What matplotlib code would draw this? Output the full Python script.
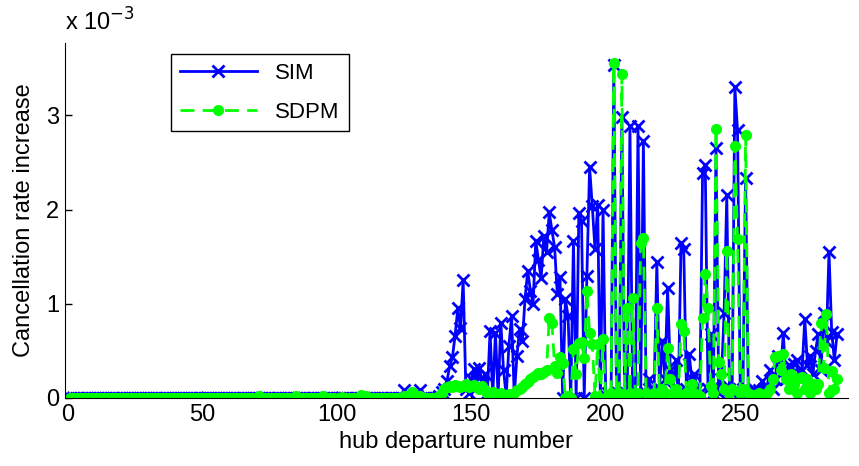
import numpy as np
import matplotlib.pyplot as plt
from matplotlib import rc

rc('font', family='Liberation Sans', size=17)

# cancellation rate increase, in units of 1e-3, hub departures 1..286
sim = [
    0, 0, 0, 0, 0, 0, 0, 0, 0, 0, 0, 0, 0, 0, 0, 0, 0, 0, 0, 0,
    0, 0, 0, 0, 0, 0, 0, 0, 0, 0, 0, 0, 0, 0, 0, 0, 0, 0, 0, 0,
    0, 0, 0, 0, 0, 0, 0, 0, 0, 0, 0, 0, 0, 0, 0, 0, 0, 0, 0, 0,
    0, 0, 0, 0, 0, 0, 0, 0, 0, 0, 0, 0, 0, 0, 0, 0, 0, 0, 0, 0,
    0, 0, 0, 0, 0, 0, 0, 0, 0, 0, 0, 0, 0, 0, 0, 0, 0, 0, 0, 0,
    0, 0, 0, 0, 0, 0, 0, 0, 0, 0, 0, 0, 0, 0, 0, 0, 0, 0, 0, 0,
    0, 0, 0, 0, 0.08, 0, 0, 0, 0, 0.02, 0.08, 0, 0, 0, 0,
    0, 0, 0.02, 0.06, 0.10, 0.18, 0.34, 0.43, 0.66, 0.95, 0.74, 1.25, 0.10, 0.05, 0.20,
    0.31, 0.12, 0.32, 0.18, 0.25, 0.05, 0.71, 0.02, 0.69, 0.02, 0.80, 0.30, 0.02, 0.55, 0.87,
    0.02, 0.45, 0.73, 0.60, 1.05, 1.35, 1.14, 1.00, 1.67, 1.46, 1.27, 1.72, 1.55, 1.97, 1.78,
    1.60, 1.10, 1.28, 0.00, 1.05, 0.87, 0.00, 1.67, 0.00, 1.96, 1.88, 0.00, 1.30, 2.45, 2.04,
    1.58, 2.05, 0.00, 2.00, 0.02, 0.05, 0.02, 3.53, 0.05, 0.02, 2.98, 0.05, 0.02, 2.89, 0.02,
    0.05, 2.89, 0.02, 2.73, 0.05, 0.20, 0.05, 0.10, 1.44, 0.10, 0.60, 0.20, 1.17, 0.30, 0.10,
    0.40, 0.05, 1.65, 1.58, 0.10, 0.47, 0.20, 0.25, 0.10, 0.05, 2.39, 2.47, 0.10, 0.68, 0.05,
    2.65, 0.05, 0.20, 0.90, 2.15, 0.10, 0.05, 3.30, 2.84, 0.05, 0.10, 2.34, 0.05, 0.02, 0.10,
    0.05, 0.08, 0.18, 0.10, 0.12, 0.30, 0.10, 0.20, 0.45, 0.25, 0.69, 0.20, 0.35, 0.25, 0.36,
    0.40, 0.20, 0.30, 0.84, 0.35, 0.45, 0.25, 0.50, 0.68, 0.30, 0.90, 0.60, 1.55, 0.70, 0.40, 0.68,
]
sdpm = [
    0, 0, 0, 0, 0, 0, 0, 0, 0, 0, 0, 0, 0, 0, 0, 0, 0, 0, 0, 0,
    0, 0, 0, 0, 0, 0, 0, 0, 0, 0, 0, 0, 0, 0, 0, 0, 0, 0, 0, 0,
    0, 0, 0, 0, 0, 0, 0, 0, 0, 0, 0, 0, 0, 0, 0, 0, 0, 0, 0, 0,
    0, 0, 0, 0, 0, 0, 0, 0, 0, 0, 0.02, 0, 0, 0, 0, 0, 0, 0, 0, 0,
    0, 0, 0, 0, 0.02, 0, 0, 0, 0, 0, 0, 0, 0, 0, 0.02, 0, 0, 0, 0, -0.01,
    0, 0.01, 0, 0, 0, 0, 0, 0, 0.03, 0, 0.02, 0, 0, 0, 0, 0, 0, 0, 0, 0,
    0, 0, 0, 0, 0.02, 0, 0.03, 0.06, 0.03, 0, 0.02, 0, 0, 0, 0,
    0, 0, 0.02, 0.05, 0.10, 0.12, 0.13, 0.12, 0.14, 0.13, 0.12, 0.13, 0.15, 0.12, 0.13,
    0.14, 0.12, 0.10, 0.13, 0.08, 0.05, 0.03, 0.06, 0.02, 0.04, 0.05, 0.03, 0.02, 0.04, 0.03,
    0.05, 0.08, 0.10, 0.12, 0.15, 0.17, 0.20, 0.22, 0.24, 0.26, 0.25, 0.28, 0.30, 0.85, 0.80,
    0.34, 0.27, 0.43, 0.37, 0.00, 0.02, 0.00, 0.52, 0.25, 0.58, 0.59, 0.42, 1.14, 0.69, 0.57,
    0.02, 0.57, 0.00, 0.63, 0.00, 0.02, 0.05, 3.56, 0.02, 0.05, 3.44, 0.02, 0.96, 0.05, 1.06,
    0.02, 0.05, 1.64, 1.70, 0.05, 0.02, 0.03, 0.05, 0.96, 0.02, 0.10, 0.05, 0.53, 0.20, 0.05,
    0.10, 0.03, 0.78, 0.71, 0.05, 0.02, 0.15, 0.05, 0.03, 0.02, 0.85, 1.32, 0.96, 0.13, 0.05,
    2.86, 0.38, 0.25, 0.10, 1.56, 0.05, 0.10, 2.68, 1.69, 0.05, 0.10, 2.79, 0.05, 0.02, 0.03,
    0.02, 0.05, 0.03, 0.02, 0.05, 0.10, 0.20, 0.43, 0.45, 0.30, 0.47, 0.20, 0.10, 0.25, 0.15,
    0.05, 0.21, 0.22, 0.10, 0.20, 0.05, 0.15, 0.10, 0.15, 0.80, 0.32, 0.89, 0.05, 0.29, 0.10, 0.20,
]
hub = np.arange(1, len(sim) + 1)

fig = plt.figure(figsize=(8.59, 4.66), dpi=100)
ax = fig.add_axes([0.0757, 0.146, 0.9113, 0.762])

ax.plot(hub, sim, color='#0000ff', lw=2, marker='x', ms=8, mew=2, label='SIM')
ax.plot(hub, sdpm, color='#00ff00', lw=2, ls='--', dashes=(5, 3), marker='o', ms=7,
        mec='#00ff00', label='SDPM')

ax.set_xlim(-1, 290)
ax.set_ylim(0, 3.77)
ax.set_xticks([0, 50, 100, 150, 200, 250])
ax.set_yticks([0, 1, 2, 3])
ax.tick_params(direction='in', length=5, width=1, pad=4)
for s in ['top', 'right']:
    ax.spines[s].set_visible(False)
ax.set_xlabel('hub departure number', labelpad=4)
ax.set_ylabel('Cancellation rate increase', labelpad=8)
ax.text(0, 1.035, r'x 10$^{-3}$', transform=ax.transAxes, fontsize=17)

leg = ax.legend(loc='upper left', bbox_to_anchor=(0.135, 0.969), borderaxespad=0,
                fancybox=False, edgecolor='black', framealpha=1, numpoints=1,
                handlelength=3.5, labelspacing=0.8, fontsize=16)
leg.get_frame().set_linewidth(1)

fig.savefig('out.png', dpi=100)
